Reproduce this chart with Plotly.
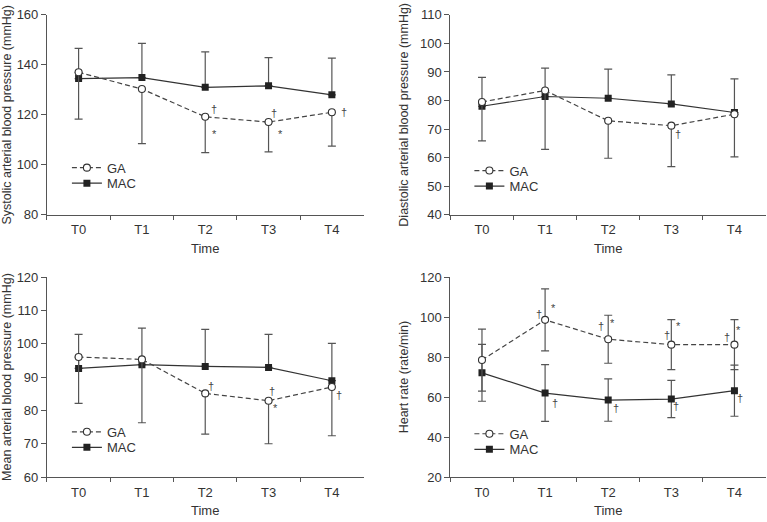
import plotly.graph_objects as go

# ---------------- data ----------------
times = ["T0", "T1", "T2", "T3", "T4"]

# Systolic arterial blood pressure (mmHg)
sbp_ga = [137.0, 130.3, 119.2, 117.1, 121.0]
sbp_ga_sd = [18.7, 21.8, 14.3, 11.9, 13.5]
sbp_mac = [134.5, 134.9, 131.0, 131.6, 128.0]
sbp_mac_sd = [12.1, 13.7, 14.2, 11.3, 14.7]

# Diastolic arterial blood pressure (mmHg)
dbp_ga = [79.5, 83.5, 72.9, 71.2, 75.2]
dbp_ga_sd = [13.6, 20.6, 13.1, 14.3, 14.9]
dbp_mac = [78.0, 81.4, 80.8, 78.8, 75.8]
dbp_mac_sd = [10.1, 9.9, 10.2, 10.2, 11.8]

# Mean arterial blood pressure (mmHg)
map_ga = [96.0, 95.3, 85.1, 82.9, 87.0]
map_ga_sd = [13.9, 19.0, 12.2, 12.9, 14.6]
map_mac = [92.6, 93.7, 93.2, 92.9, 88.9]
map_mac_sd = [10.2, 11.0, 11.1, 9.9, 11.2]

# Heart rate (rate/min)
hr_ga = [78.5, 98.6, 88.9, 86.2, 86.2]
hr_ga_sd = [15.5, 15.5, 12.0, 12.5, 12.5]
hr_mac = [72.1, 62.0, 58.5, 59.0, 63.2]
hr_mac_sd = [14.2, 14.2, 10.6, 9.3, 12.8]

# significance marks: (series, time index, symbol)
sbp_marks = [("GA", 2, "†"), ("GA", 2, "*"), ("GA", 3, "†"), ("GA", 3, "*"), ("GA", 4, "†")]
dbp_marks = [("GA", 3, "†")]
map_marks = [("GA", 2, "†"), ("GA", 3, "†"), ("GA", 3, "*"), ("GA", 4, "†")]
hr_marks = [("GA", 1, "†"), ("GA", 1, "*"), ("GA", 2, "†"), ("GA", 2, "*"),
            ("GA", 3, "†"), ("GA", 3, "*"), ("GA", 4, "†"), ("GA", 4, "*"),
            ("MAC", 1, "†"), ("MAC", 2, "†"), ("MAC", 3, "†"), ("MAC", 4, "†")]

# ---------------- styling / layout ----------------
W, H = 767, 522
FONT = "Liberation Sans, Arial, Helvetica, sans-serif"
TXT = "#333333"
AX = "#555555"
ERR = "#555555"

# pixel offsets (dx, dy) of marks relative to their point
sbp_offs = [(9, -8), (9, 17), (5, -9), (12, 12), (12, 0)]
dbp_offs = [(7, 8)]
map_offs = [(6, -7), (3, -10), (7, 7), (7, 8)]
hr_offs = [(-6, -6), (8, -12), (-7, -13), (4, -16), (-4, -10), (7, -19), (-7, -8), (4, -15),
           (10, 10), (8, 8), (5, 7), (6, 7)]

def px_x(a, b):
    return [a / W, b / W]

def px_y(top, bottom):
    return [(H - bottom) / H, (H - top) / H]

panels = [
    dict(ga=sbp_ga, ga_sd=sbp_ga_sd, mac=sbp_mac, mac_sd=sbp_mac_sd, sym=False,
         rng=[80, 160], dt=20, title="Systolic arterial blood pressure (mmHg)",
         xd=px_x(46, 363), yd=px_y(8, 214), marks=sbp_marks, offs=sbp_offs, leg=(66, 150)),
    dict(ga=dbp_ga, ga_sd=dbp_ga_sd, mac=dbp_mac, mac_sd=dbp_mac_sd, sym=False,
         rng=[40, 110], dt=10, title="Diastolic arterial blood pressure (mmHg)",
         xd=px_x(450, 766), yd=px_y(8, 214), marks=dbp_marks, offs=dbp_offs, leg=(469, 153)),
    dict(ga=map_ga, ga_sd=map_ga_sd, mac=map_mac, mac_sd=map_mac_sd, sym=False,
         rng=[60, 120], dt=10, title="Mean arterial blood pressure (mmHg)",
         xd=px_x(46, 363), yd=px_y(278, 484), marks=map_marks, offs=map_offs, leg=(66, 422)),
    dict(ga=hr_ga, ga_sd=hr_ga_sd, mac=hr_mac, mac_sd=hr_mac_sd, sym=True,
         rng=[20, 120], dt=20, title="Heart rate (rate/min)",
         xd=px_x(450, 766), yd=px_y(278, 484), marks=hr_marks, offs=hr_offs, leg=(469, 424)),
]
ROW = 16  # legend row spacing in px

fig = go.Figure()
layout = dict(
    width=W, height=H, margin=dict(l=0, r=0, t=0, b=0),
    paper_bgcolor="white", plot_bgcolor="white",
    font=dict(family=FONT, size=13, color=TXT),
    showlegend=True,
)
annotations = []

for i, p in enumerate(panels):
    n = "" if i == 0 else str(i + 1)
    xa, ya = "x" + n, "y" + n
    leg_ga = "legend" + ("" if i == 0 else str(2 * i + 1))
    leg_mac = "legend" + str(2 * i + 2)
    if p["sym"]:
        ga_err = dict(type="data", array=p["ga_sd"], symmetric=True,
                      color=ERR, thickness=1.2, width=4)
        mac_err = dict(type="data", array=p["mac_sd"], symmetric=True,
                       color=ERR, thickness=1.2, width=4)
    else:
        ga_err = dict(type="data", array=[0] * 5, arrayminus=p["ga_sd"], symmetric=False,
                      color=ERR, thickness=1.2, width=4)
        mac_err = dict(type="data", array=p["mac_sd"], arrayminus=[0] * 5, symmetric=False,
                       color=ERR, thickness=1.2, width=4)
    fig.add_trace(go.Scatter(
        x=times, y=p["mac"], name="MAC", mode="lines+markers", xaxis=xa, yaxis=ya,
        line=dict(color="#333333", width=1.2),
        marker=dict(symbol="square", size=7, color="#222222"),
        error_y=mac_err, legend=leg_mac))
    fig.add_trace(go.Scatter(
        x=times, y=p["ga"], name="GA", mode="lines+markers", xaxis=xa, yaxis=ya,
        line=dict(color="#444444", width=1.2, dash="5px,3px"),
        marker=dict(symbol="circle", size=7, color="white",
                    line=dict(color="#333333", width=1.1)),
        error_y=ga_err, legend=leg_ga))

    layout["xaxis" + n] = dict(
        domain=p["xd"], anchor=ya, type="category", range=[-0.5, 4.5],
        tickson="boundaries", ticks="outside", ticklen=4, tickcolor=AX,
        showline=True, linecolor=AX, linewidth=1, showgrid=False, zeroline=False,
        tickfont=dict(size=13, color=TXT), ticklabelstandoff=3,
        title=dict(text="Time", font=dict(size=13, color=TXT), standoff=7),
        fixedrange=True)
    layout["yaxis" + n] = dict(
        domain=p["yd"], anchor=xa, range=p["rng"], dtick=p["dt"], tick0=0,
        ticks="outside", ticklen=5, tickcolor=AX,
        showline=True, linecolor=AX, linewidth=1, showgrid=False, zeroline=False,
        tickfont=dict(size=13, color=TXT),
        title=dict(text=p["title"], font=dict(size=12.5, color=TXT), standoff=8),
        fixedrange=True)
    lx, ly = p["leg"]
    for k, lname in enumerate([leg_ga, leg_mac]):
        layout[lname] = dict(
            x=lx / W, y=(H - ly - k * ROW) / H, xanchor="left", yanchor="top",
            bgcolor="rgba(0,0,0,0)", font=dict(size=13, color=TXT),
            itemwidth=30, tracegroupgap=0)

    for (series, idx, sym), (dx, dy) in zip(p["marks"], p["offs"]):
        yval = p["ga"][idx] if series == "GA" else p["mac"][idx]
        annotations.append(dict(
            x=times[idx], y=yval, xref=xa, yref=ya, text=sym, showarrow=False,
            xshift=dx, yshift=-dy, font=dict(size=11, color="#444444")))

layout["annotations"] = annotations
fig.update_layout(**layout)
fig.write_html("out.html",
               config={"displayModeBar": False, "staticPlot": True},
               post_script="document.body.style.margin='0';document.body.style.overflow='hidden';")
